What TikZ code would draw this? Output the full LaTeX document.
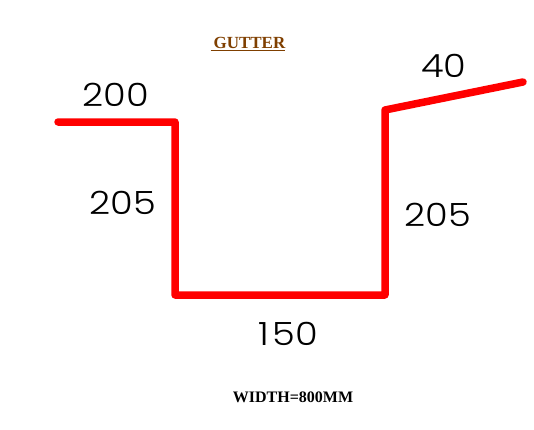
\documentclass[tikz,border=0pt]{standalone}
\usepackage{fontspec}
\setmainfont{Liberation Serif}
\newfontfamily\dimfont{Poppins Light}
\usetikzlibrary{positioning}

\begin{document}
\begin{tikzpicture}[x=1pt, y=-1pt, sheet/.style = {draw=red, line width=7.5pt, line join=round, line cap=round},
            dim/.style = {font=\dimfont\fontsize{32}{32}\selectfont, xscale=1.15, inner sep=0pt, text=black},
            caption/.style = {font=\bfseries\fontsize{16}{16}\selectfont, inner sep=0pt}]
            \useasboundingbox (0,0) rectangle (534,429);
            \coordinate (a) at (58,122);
            \coordinate (b) at (175,122);
            \coordinate (c) at (175,295);
            \coordinate (d) at (385,295);
            \coordinate (e) at (385,110);
            \coordinate (f) at (523,82);
            \draw[sheet] (a) -- (b) -- (c) -- (d) -- (e) -- (f);
            \node[caption, font=\bfseries\fontsize{17}{17}\selectfont, text={rgb,255:red,127;green,63;blue,0}] (title) at (248,44) {\underline{\,GUTTER}};
            \node[dim] (top) at (116,95) {200};
            \node[dim] (lip) at (444,66) {40};
            \node[dim] (left) at (123,203) {205};
            \node[dim] (right) at (438,215) {205};
            \node[dim] (base) at (288,334) {1\kern3pt 50};
            \node[caption] (width) at (293,397) {WIDTH=800MM};
        \end{tikzpicture}
\end{document}
